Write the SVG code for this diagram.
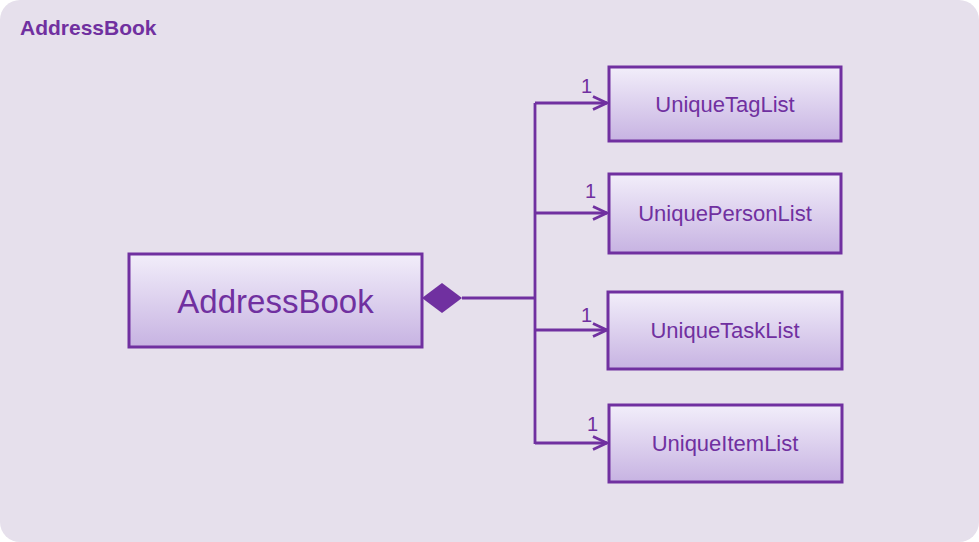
<svg xmlns="http://www.w3.org/2000/svg" width="979" height="542" viewBox="0 0 979 542">
<style>
.node rect{fill:url(#g);stroke:#7030A0;stroke-width:3}
.lbl{font-family:"Liberation Sans",Arial,sans-serif;fill:#7030A0;text-anchor:middle}
.conn{fill:none;stroke:#7030A0;stroke-width:2.8}
.mult{font-family:"Liberation Sans",Arial,sans-serif;fill:#7030A0;font-size:20px}
</style>
<defs>
<linearGradient id="g" x1="0" y1="0" x2="0" y2="1">
<stop offset="0" stop-color="#F2EEFA"/>
<stop offset="1" stop-color="#C7B3E2"/>
</linearGradient>
<marker id="arr" viewBox="0 0 16 16" refX="15" refY="8" markerWidth="16" markerHeight="16" markerUnits="userSpaceOnUse" orient="auto">
<path d="M1,1.5 L15,8 L1,14.5" fill="none" stroke="#7030A0" stroke-width="2.8"/>
</marker>
</defs>
<rect x="0" y="0" width="979" height="542" rx="20" ry="20" fill="#E6E0EC"/>
<text x="20" y="35" font-family="'Liberation Sans',Arial,sans-serif" font-weight="bold" font-size="21" fill="#7030A0">AddressBook</text>
<g id="connectors">
<polygon points="422,298 442,283 462,298 442,313" fill="#7030A0"/>
<path class="conn" d="M462,298 H535"/>
<path class="conn" d="M535,103 V444"/>
<path class="conn" d="M535,103 H607" marker-end="url(#arr)"/>
<path class="conn" d="M535,213 H607" marker-end="url(#arr)"/>
<path class="conn" d="M535,330 H607" marker-end="url(#arr)"/>
<path class="conn" d="M535,443 H607" marker-end="url(#arr)"/>
<text class="mult" x="581" y="93">1</text>
<text class="mult" x="585" y="198">1</text>
<text class="mult" x="581" y="322">1</text>
<text class="mult" x="587" y="431">1</text>
</g>
<g id="AddressBook" class="node">
<rect x="129" y="254" width="293" height="93"/>
<text class="lbl" x="275.5" y="313" font-size="33">AddressBook</text>
</g>
<g id="UniqueTagList" class="node">
<rect x="609" y="67" width="232" height="74"/>
<text class="lbl" x="725" y="112" font-size="22">UniqueTagList</text>
</g>
<g id="UniquePersonList" class="node">
<rect x="609" y="174" width="232" height="79"/>
<text class="lbl" x="725" y="221" font-size="22">UniquePersonList</text>
</g>
<g id="UniqueTaskList" class="node">
<rect x="608" y="292" width="234" height="77"/>
<text class="lbl" x="725" y="338" font-size="22">UniqueTaskList</text>
</g>
<g id="UniqueItemList" class="node">
<rect x="609" y="405" width="233" height="77"/>
<text class="lbl" x="725" y="451" font-size="22">UniqueItemList</text>
</g>
</svg>
